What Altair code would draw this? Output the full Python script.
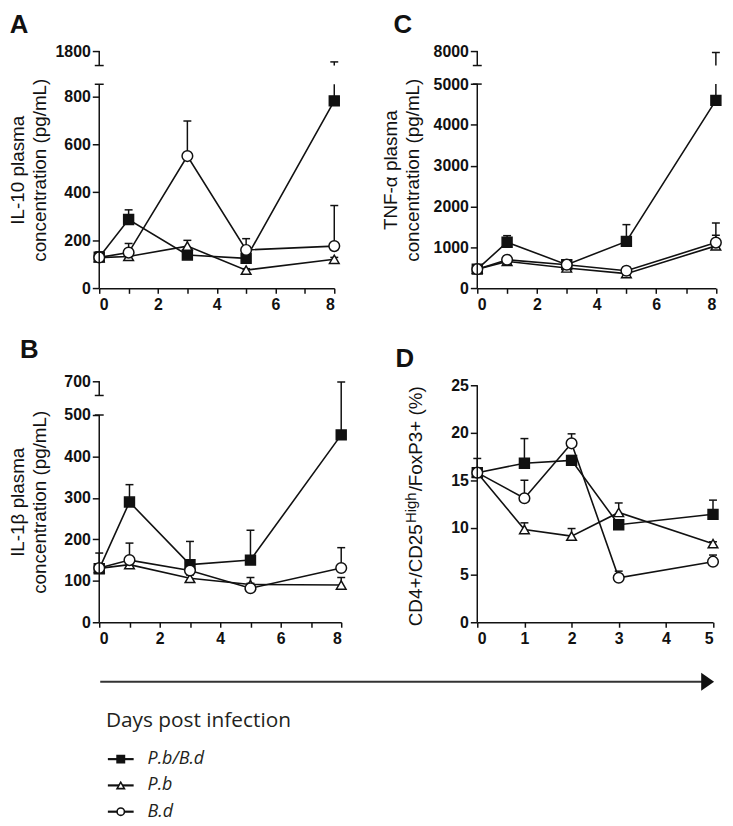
import altair as alt
import pandas as pd

SERIES = ["P.b/B.d", "P.b", "B.d"]
DAYS_CYT = [0, 1, 3, 5, 8]
DAYS_TREG = [0, 1, 2, 3, 5]

# Panel A: IL-10 (pg/mL) -- mean and upper error
IL10_PBBD = [130, 287, 139, 125, 781]
IL10_PBBD_ERR = [22, 40, 14, 30, 869]
IL10_PB = [128, 133, 176, 76, 121]
IL10_PB_ERR = [8, 10, 24, 6, 8]
IL10_BD = [129, 149, 551, 160, 176]
IL10_BD_ERR = [8, 38, 146, 47, 169]

# Panel C: TNF-alpha (pg/mL)
TNF_PBBD = [470, 1130, 580, 1150, 4600]
TNF_PBBD_ERR = [40, 160, 60, 410, 3300]
TNF_PB = [470, 660, 500, 360, 1040]
TNF_PB_ERR = [30, 60, 40, 40, 260]
TNF_BD = [470, 700, 580, 430, 1120]
TNF_BD_ERR = [30, 80, 50, 90, 480]

# Panel B: IL-1beta (pg/mL)
IL1B_PBBD = [129, 290, 139, 150, 452]
IL1B_PBBD_ERR = [38, 42, 56, 72, 243]
IL1B_PB = [130, 139, 106, 91, 90]
IL1B_PB_ERR = [8, 10, 8, 17, 18]
IL1B_BD = [131, 150, 125, 82, 131]
IL1B_BD_ERR = [8, 41, 10, 12, 49]

# Panel D: CD4+/CD25High/FoxP3+ (%)
TREG_PBBD = [15.8, 16.8, 17.1, 10.3, 11.4]
TREG_PBBD_ERR = [1.5, 2.6, 0.5, 0.5, 1.5]
TREG_PB = [15.8, 9.8, 9.1, 11.6, 8.3]
TREG_PB_ERR = [0.3, 0.7, 0.8, 1.0, 0.2]
TREG_BD = [15.8, 13.1, 18.9, 4.7, 6.4]
TREG_BD_ERR = [0.5, 1.9, 1.0, 0.7, 0.7]

LEGEND_TITLE = "Days post infection"

FONT = "Liberation Sans"
LEG_FONT = "Open Sans"
INK = "#111111"
ONE = pd.DataFrame({"k": [0]})

SHAPES = ["square", "triangle-up", "circle"]
FILLS = [INK, "white", "white"]
SIZES = [100, 95, 115]


def txt(s, x, y, **kw):
    return alt.Chart(ONE).mark_text(text=s, **kw).encode(x=alt.value(x), y=alt.value(y))


def build_panel(cfg, days, vals, errs, extra=()):
    rows = []
    for s, vv, ee in zip(SERIES, vals, errs):
        for dd, v, e in zip(days, vv, ee):
            rows.append({"series": s, "day": dd, "v": v, "top": v + e})
    df = pd.DataFrame(rows)

    H = cfg["height"]
    k = cfg["k"]
    dmax = H / k
    broken = cfg.get("low_top") is not None
    if broken:
        low_top, up_lo, up_hi = cfg["low_top"], cfg["up_lo"], cfg["up_hi"]
        up_base = (H - cfg["up_gap_px"]) / k
        up_scale = (dmax - up_base) / (up_hi - up_lo)

        def m(x):
            return f"(({x}) <= {low_top}) ? ({x}) : ({up_base} + (({x}) - {up_lo}) * {up_scale})"
    else:
        def m(x):
            return f"({x})"

    yvals = list(cfg["yticks"]) + ([dmax] if broken else [])
    ax_kw = dict(
        values=yvals, format="d", domain=False, grid=False,
        tickSize=7, tickWidth=1.5, tickColor=INK,
        labelFont=FONT, labelFontSize=16, labelFontWeight=700,
        labelColor=INK, labelPadding=2,
    )
    if broken:
        ax_kw["labelExpr"] = f"datum.value > {low_top} ? '{up_hi}' : datum.label"
    if cfg.get("title"):
        ax_kw.update(title=cfg["title"], titleX=cfg["titleX"], titleFont=FONT,
                     titleFontSize=19, titleFontWeight="normal", titleColor=INK,
                     titleLineHeight=22)
    else:
        ax_kw["title"] = None
    yaxis = alt.Axis(**ax_kw)
    yscale = alt.Scale(domain=[0, dmax], nice=False, zero=False)

    def Y(f):
        return alt.Y(f, type="quantitative", scale=yscale, axis=yaxis)

    xmax = cfg["xmax"]
    xk = dict(values=list(range(0, xmax + 1)), format="d", title=None, grid=False,
              tickSize=5, tickWidth=1.5, tickColor=INK, domainColor=INK, domainWidth=1.5,
              labelFont=FONT, labelFontSize=16, labelFontWeight=700, labelColor=INK,
              labelPadding=3)
    if cfg.get("even_labels"):
        xk["labelExpr"] = "datum.value % 2 == 0 ? datum.label : ''"
    X = alt.X("day:Q", scale=alt.Scale(domain=[0, xmax], nice=False), axis=alt.Axis(**xk))

    calc = dict(d=m("datum.v"), dt=m("datum.top"))
    if broken and not cfg.get("bridge"):
        calc["dl"] = m(f"min(datum.top, {low_top})")
        calc["ub"] = str(up_base)
    base = alt.Chart(df).transform_calculate(**calc)

    layers = []
    if broken and not cfg.get("bridge"):
        layers.append(base.mark_rule(color=INK, strokeWidth=1.5).encode(
            x=X, y=Y("d"), y2=alt.Y2("dl")))
        layers.append(base.transform_filter(f"datum.top > {low_top}").mark_rule(
            color=INK, strokeWidth=1.5).encode(x=X, y=Y("ub"), y2=alt.Y2("dt")))
    else:
        layers.append(base.mark_rule(color=INK, strokeWidth=1.5).encode(
            x=X, y=Y("d"), y2=alt.Y2("dt")))
    layers.append(base.mark_tick(orient="horizontal", size=8, thickness=1.5, color=INK,
                                 opacity=1).encode(x=X, y=Y("dt")))
    layers.append(base.mark_line(color=INK, strokeWidth=1.6).encode(
        x=X, y=Y("d"), detail="series:N"))
    for name, shp, fil, sz in zip(SERIES, SHAPES, FILLS, SIZES):
        layers.append(base.transform_filter(alt.datum.series == name).mark_point(
            shape=shp, filled=True, fill=fil, stroke=INK, strokeWidth=1.5,
            size=sz, opacity=1).encode(x=X, y=Y("d")))

    # y axis line (possibly broken) and break caps
    if broken:
        seg = pd.DataFrame({"s0": [0, up_lo], "s1": [low_top, up_hi]})
        caps = pd.DataFrame({"c": [low_top, up_lo]})
    else:
        seg = pd.DataFrame({"s0": [0], "s1": [cfg["yticks"][-1]]})
        caps = None
    layers.append(alt.Chart(seg).transform_calculate(a=m("datum.s0"), b=m("datum.s1"))
                  .mark_rule(color=INK, strokeWidth=1.5)
                  .encode(x=alt.value(0), y=Y("a"), y2=alt.Y2("b")))
    if caps is not None:
        layers.append(alt.Chart(caps).transform_calculate(cc=m("datum.c"))
                      .mark_rule(color=INK, strokeWidth=1.5)
                      .encode(x=alt.value(-4.5), x2=alt.value(4.5), y=Y("cc")))

    # panel letter
    lx, ly = cfg["letter_pos"]
    layers.append(txt(cfg["letter"], lx, ly, font=FONT, fontSize=26, fontWeight="bold",
                      align="left", baseline="top", color=INK))
    layers.extend(extra)
    return alt.layer(*layers).properties(width=cfg["width"], height=cfg["height"])


cfgA = dict(width=237, height=239.3, k=(287 - 93.3) / 800, low_top=850, up_lo=1600,
            up_hi=1800, up_gap_px=14.6, yticks=[0, 200, 400, 600, 800], xmax=8,
            even_labels=True, title=["IL-10 plasma", "concentration (pg/mL)"],
            titleX=-72, letter="A", letter_pos=(-90.3, -39.7))
cfgC = dict(width=240.6, height=239.3, k=206 / 5000, low_top=5000, up_lo=7000,
            up_hi=8000, up_gap_px=14.6, yticks=[0, 1000, 2000, 3000, 4000, 5000], xmax=8,
            even_labels=True, title=["TNF-α plasma", "concentration (pg/mL)"],
            titleX=-77, letter="C", letter_pos=(-84.5, -39.7))
cfgB = dict(width=244, height=243, k=209 / 500, low_top=500, up_lo=600, up_hi=700,
            up_gap_px=14.3, yticks=[0, 100, 200, 300, 400, 500], xmax=8, bridge=True,
            even_labels=True, title=["IL-1β plasma", "concentration (pg/mL)"],
            titleX=-72, letter="B", letter_pos=(-80, -44))
cfgD = dict(width=237.7, height=243, k=238.7 / 25, yticks=[0, 5, 10, 15, 20, 25], xmax=5,
            even_labels=False, letter="D", letter_pos=(-82.5, -35))

# footer (arrow + legend) drawn with panel B, title of panel D as text pieces
footer = [
    alt.Chart(ONE).mark_rule(color="#333333", strokeWidth=2).encode(
        x=alt.value(1), x2=alt.value(610), y=alt.value(303)),
    alt.Chart(ONE).mark_point(shape="M-1,-1.4L1,0L-1,1.4Z", filled=True, fill="#111111",
                              size=169, opacity=1, strokeWidth=0).encode(
        x=alt.value(613.5), y=alt.value(303)),
    txt(LEGEND_TITLE, 6.7, 343, font=LEG_FONT, fontSize=21, align="left",
        baseline="middle", color="#231f20"),
]
for i, (name, shp, fil) in enumerate(zip(SERIES, SHAPES, FILLS)):
    ry = 381 + 26.5 * i
    footer.append(alt.Chart(ONE).mark_rule(color=INK, strokeWidth=2.2).encode(
        x=alt.value(8.7), x2=alt.value(34.7), y=alt.value(ry)))
    footer.append(alt.Chart(ONE).mark_point(shape=shp, filled=True, fill=fil, stroke=INK,
                                            strokeWidth=1.6, size=55, opacity=1).encode(
        x=alt.value(21.7), y=alt.value(ry)))
    footer.append(txt(name, 48.7, ry, font=LEG_FONT, fontSize=18, fontStyle="italic",
                      align="left", baseline="middle", color="#231f20"))

d_title = [
    txt("CD4+/CD25", -56, 247, font=FONT, fontSize=19, angle=270, align="left",
        baseline="alphabetic", color=INK),
    txt("High", -62, 143, font=FONT, fontSize=15, angle=270, align="left",
        baseline="alphabetic", color=INK),
    txt("/FoxP3+ (%)", -56, 111, font=FONT, fontSize=19, angle=270, align="left",
        baseline="alphabetic", color=INK),
]

pA = build_panel(cfgA, DAYS_CYT, [IL10_PBBD, IL10_PB, IL10_BD],
                 [IL10_PBBD_ERR, IL10_PB_ERR, IL10_BD_ERR])
pC = build_panel(cfgC, DAYS_CYT, [TNF_PBBD, TNF_PB, TNF_BD],
                 [TNF_PBBD_ERR, TNF_PB_ERR, TNF_BD_ERR])
pB = build_panel(cfgB, DAYS_CYT, [IL1B_PBBD, IL1B_PB, IL1B_BD],
                 [IL1B_PBBD_ERR, IL1B_PB_ERR, IL1B_BD_ERR], extra=footer)
pD = build_panel(cfgD, DAYS_TREG, [TREG_PBBD, TREG_PB, TREG_BD],
                 [TREG_PBBD_ERR, TREG_PB_ERR, TREG_BD_ERR], extra=d_title)

chart = alt.concat(pA, pC, pB, pD, columns=2,
                   spacing=alt.RowColnumber(row=93, column=137.2),
                   bounds="flush").properties(padding=0).configure_view(stroke=None)

chart.save("out.html", embed_options={"renderer": "svg", "actions": False})
